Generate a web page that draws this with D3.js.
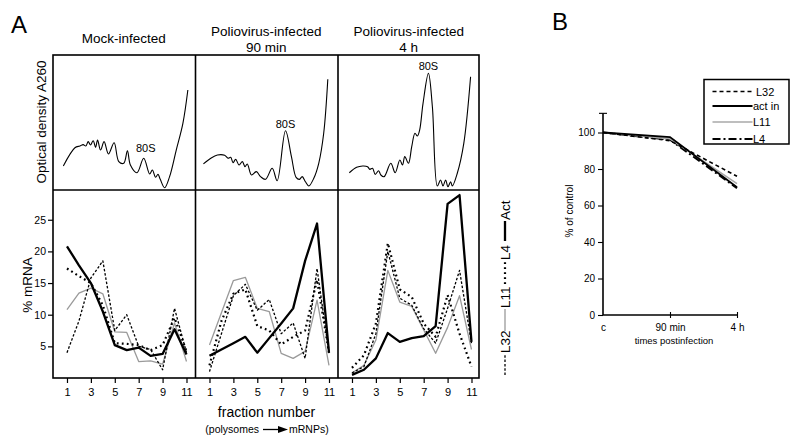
<!DOCTYPE html>
<html><head><meta charset="utf-8">
<script src="https://cdn.jsdelivr.net/npm/d3@7"></script>
<style>
html,body{margin:0;padding:0;background:#fff;}
svg{display:block;font-family:"Liberation Sans",Arial,Helvetica,sans-serif;}
</style></head>
<body>
<script>
// ---------- DATA ----------
const fractions = [1,2,3,4,5,6,7,8,9,10,11];
const panelTitles = [["Mock-infected"],["Poliovirus-infected","90 min"],["Poliovirus-infected","4 h"]];
const xTickValues = [1,3,5,7,9,11];
const yTickValues = [5,10,15,20,25];

// % mRNA per fraction (panel A, lower row)
const mockAct = [20.8,17.8,15,10.5,5.2,4.4,4.8,3.5,3.8,7.7,3.7];
const mockL11 = [10.8,13.4,14.2,13.3,7.3,7.2,2.6,2.7,2.2,8.7,2.6];
const mockL32 = [4,9,15.8,18.5,7.5,10,5,4.5,1.3,11,4];
const mockL4  = [17.3,16.1,15,11.5,5.5,5.4,5.2,4.4,5.2,9.5,4.2];

const p90Act = [3.5,4.5,5.5,6.5,4,6.3,8.6,11,18.5,24.4,4];
const p90L11 = [5.2,10.3,15.4,15.9,11,10.5,3.9,3.1,4.2,12.3,2];
const p90L32 = [1,7,13,14.8,10.7,12.4,7,8.7,3.1,17.3,3.9];
const p90L4  = [2,9,13.3,14,8.2,7.5,5.3,6.5,7.5,15.5,4];

const p4hAct = [0.5,1.3,3.1,7.1,5.7,6.3,6.6,8.2,27.5,28.9,5.7];
const p4hL11 = [0.8,2,6,17,12,11.3,7.6,3.9,8,13,4.5];
const p4hL32 = [0.8,1.8,7,20,12.6,11.5,7.8,5.5,11,17,5.5];
const p4hL4  = [1.6,3.6,8.6,21.3,14,12.8,8.6,6.5,13.1,7,1.8];

// Optical density traces (position along gradient %, A260 relative units)
const odMockPos = [7.3,15.5,19,21.3,23.2,24.9,26.5,28.4,30.1,31.5,33.6,36.1,39.2,43.2,46.5,50,52.6,54.7,59.4,64.1,68.3,70.2,72.5,74.2,75.8,78.9,82.4,87.1,91.8,95.3];
const odMockVal = [17.8,31.3,32.6,33.6,32.6,35.8,33.3,36.5,31.6,37,29.6,35.8,26.7,35,21,19.8,29.1,18.5,12.8,23.5,11.9,14.8,9.4,11.6,7.9,1.7,9.9,29.6,49.4,74.1];
const od90Pos = [5.6,10.8,15.5,20.6,23,24.9,26.5,28.4,30.8,33.1,35,36.6,39.6,43,46,49.5,54.2,57.7,63.6,67.8,71.1,73.5,75.4,77.7,80.1,83.6,87.1,90.6,93.5];
const od90Val = [19.3,23.5,25.9,25.7,23.5,24.2,20.2,22.7,18.5,21,17.3,19.3,11.1,13.6,9.9,7.9,16.1,6.9,43.9,24.7,9.4,7.9,9.9,6.1,3,8.7,19.8,42,82];
const od4hPos = [8,13.2,17.4,20.9,22.5,24.4,26.3,28.7,30.3,32.6,37.3,40.4,43.7,45.6,47.2,49.8,52.1,54.4,56.1,57.7,60.1,63.9,66.7,70.2,72.5,74.2,76.1,77.7,79.6,80.8,84.3,88.9,93.7];
const od4hVal = [12.8,16.8,17.8,17.3,15.3,16.1,11.6,14.3,11.1,9.9,19.8,12.8,22.2,18.5,24.7,19.8,32.1,42,40,44.4,64.2,86.4,61.7,3,7.4,3,7.4,2.4,6.1,3,12.4,34.6,83.9];
const peak80SPos = [64.1,63.6,63.9];
const peak80SVal = [23.5,43.9,86.4];

// Panel B
const bTimes = ["c","90 min","4 h"];
const bL32   = [100,95.5,76];
const bActin = [100,97.5,70];
const bL11   = [100,96.5,72];
const bL4    = [100,96,69.5];
const bYTicks = [0,20,40,60,80,100];
const bLegend = ["L32","act in","L11","L4"];

// ---------- DRAW ----------
const svg = d3.select("body").append("svg").attr("width",800).attr("height",447);
const FONT = "'Liberation Sans',Arial,Helvetica,sans-serif";

const styles = {
  L11:{stroke:"#9a9a9a",width:1.3,dash:null},
  L32:{stroke:"#000",width:1.3,dash:"2.5,1.8"},
  L4:{stroke:"#000",width:2.2,dash:"1.8,3.2"},
  Act:{stroke:"#000",width:2.3,dash:null}
};

const lefts = [53,195.5,338];
const PW = 141.5;
const TOP = 55, MID = 190, BOT = 378;

const yLow = d3.scaleLinear().domain([0,29.7]).range([BOT,MID]);
const yTop = d3.scaleLinear().domain([0,100]).range([MID,TOP]);

const lowData = [
  {L11:mockL11,L32:mockL32,L4:mockL4,Act:mockAct},
  {L11:p90L11,L32:p90L32,L4:p90L4,Act:p90Act},
  {L11:p4hL11,L32:p4hL32,L4:p4hL4,Act:p4hAct}
];
const odData = [[odMockPos,odMockVal],[od90Pos,od90Val],[od4hPos,od4hVal]];

lefts.forEach((L,i)=>{
  const xLow = d3.scaleLinear().domain([-0.17,11.67]).range([L,L+PW]);
  const xTop = d3.scaleLinear().domain([0,100]).range([L,L+PW]);
  // OD trace
  const pts = odData[i][0].map((p,k)=>[p,odData[i][1][k]]);
  svg.append("path").datum(pts)
    .attr("d", d3.line().x(d=>xTop(d[0])).y(d=>yTop(d[1])).curve(d3.curveCatmullRom.alpha(0.5)))
    .attr("fill","none").attr("stroke","#000").attr("stroke-width",1.1);
  // 80S label
  svg.append("text").attr("x",xTop(peak80SPos[i]) + (i===0?2:0)).attr("y",yTop(peak80SVal[i]) - (i===0?6:3))
    .attr("text-anchor","middle").attr("font-size",11).text("80S");
  // lines
  ["L11","L32","L4","Act"].forEach(k=>{
    const s = styles[k];
    svg.append("path").datum(lowData[i][k])
      .attr("d", d3.line().x((d,j)=>xLow(fractions[j])).y(d=>yLow(d)))
      .attr("fill","none").attr("stroke",s.stroke).attr("stroke-width",s.width)
      .attr("stroke-dasharray",s.dash).attr("stroke-linejoin","round");
  });
  // x axis
  const ax = svg.append("g").attr("transform",`translate(0,${BOT})`)
    .call(d3.axisBottom(xLow).tickValues(xTickValues).tickSize(5).tickPadding(5));
  ax.select(".domain").remove();
  ax.selectAll("line").attr("stroke","#000").attr("stroke-width",1.2);
  ax.selectAll("text").attr("font-size",11).attr("font-family",FONT);
  // titles
  const t = panelTitles[i];
  t.forEach((line,j)=>{
    svg.append("text").attr("x",L+PW/2).attr("y", t.length===1 ? 43 : 36 + j*15.5)
      .attr("text-anchor","middle").attr("font-size",13.5).text(line);
  });
});

// frame
svg.append("rect").attr("x",53).attr("y",TOP).attr("width",479-53).attr("height",BOT-TOP)
  .attr("fill","none").attr("stroke","#000").attr("stroke-width",1.6);
svg.append("line").attr("x1",53).attr("x2",479).attr("y1",MID).attr("y2",MID).attr("stroke","#000").attr("stroke-width",1.6);
[195.5,338].forEach(x=>svg.append("line").attr("x1",x).attr("x2",x).attr("y1",TOP).attr("y2",BOT).attr("stroke","#000").attr("stroke-width",1.6));

// y axis lower
const ay = svg.append("g").attr("transform","translate(53,0)")
  .call(d3.axisLeft(yLow).tickValues(yTickValues).tickSize(5).tickPadding(2));
ay.select(".domain").remove();
ay.selectAll("line").attr("stroke","#000").attr("stroke-width",1.2);
ay.selectAll("text").attr("font-size",10.5).attr("font-family",FONT);

// axis labels A
svg.append("text").attr("transform","translate(46,122) rotate(-90)").attr("text-anchor","middle")
  .attr("font-size",13.5).text("Optical density A260");
svg.append("text").attr("transform","translate(32,285) rotate(-90)").attr("text-anchor","middle")
  .attr("font-size",13.5).text("% mRNA");
svg.append("text").attr("x",266.5).attr("y",417).attr("text-anchor","middle").attr("font-size",14).text("fraction number");
svg.append("text").attr("x",259).attr("y",433).attr("text-anchor","end").attr("font-size",10.5).text("(polysomes");
svg.append("text").attr("x",289).attr("y",433).attr("text-anchor","start").attr("font-size",10.5).text("mRNPs)");
svg.append("line").attr("x1",263).attr("x2",280).attr("y1",429.5).attr("y2",429.5).attr("stroke","#000").attr("stroke-width",1.3);
svg.append("path").attr("d","M278,426 L288,429.5 L278,433 Z").attr("fill","#000");

// panel letters
svg.append("text").attr("x",11).attr("y",33).attr("font-size",24).text("A");
svg.append("text").attr("x",552).attr("y",30).attr("font-size",24).text("B");

// rotated legend for A
const lg = svg.append("g").attr("transform","translate(510,375) rotate(-90)");
const legItems = [
  {k:"L32",x0:0,x1:21,tx:22},
  {k:"L11",x0:44,x1:66,tx:67},
  {k:"L4",x0:91,x1:114,tx:115},
  {k:"Act",x0:134,x1:154,tx:155}
];
legItems.forEach(it=>{
  const s = styles[it.k];
  lg.append("line").attr("x1",it.x0).attr("x2",it.x1).attr("y1",-5).attr("y2",-5)
    .attr("stroke",s.stroke).attr("stroke-width",s.width).attr("stroke-dasharray",s.dash);
  lg.append("text").attr("x",it.tx).attr("y",0).attr("font-size",13.5).text(it.k);
});

// ---------- PANEL B ----------
const xB = d3.scalePoint().domain(bTimes).range([603,737]);
const yB = d3.scaleLinear().domain([0,100]).range([315,132.5]);
const bSeries = [
  {name:"L32",vals:bL32,stroke:"#000",w:1.6,dash:"4,3"},
  {name:"act in",vals:bActin,stroke:"#000",w:1.8,dash:null},
  {name:"L11",vals:bL11,stroke:"#a8a8a8",w:1.6,dash:null},
  {name:"L4",vals:bL4,stroke:"#000",w:2,dash:"8,3,2,3"}
];
bSeries.slice().reverse().forEach(s=>{
  svg.append("path").datum(s.vals)
    .attr("d", d3.line().x((d,j)=>xB(bTimes[j])).y(d=>yB(d)))
    .attr("fill","none").attr("stroke",s.stroke).attr("stroke-width",s.w).attr("stroke-dasharray",s.dash);
});
// axes B
const byA = svg.append("g").attr("transform","translate(603,0)")
  .call(d3.axisLeft(yB).tickValues(bYTicks).tickSize(5).tickPadding(3).tickSizeOuter(0));
byA.select(".domain").remove();
byA.selectAll("line").attr("stroke","#000").attr("stroke-width",1.1);
byA.selectAll("text").attr("font-size",10).attr("font-family",FONT);
svg.append("line").attr("x1",603).attr("x2",603).attr("y1",yB(0)).attr("y2",yB(110.5)).attr("stroke","#000").attr("stroke-width",1.6);
svg.append("line").attr("x1",599).attr("x2",607).attr("y1",yB(110.5)).attr("y2",yB(110.5)).attr("stroke","#000").attr("stroke-width",1.1);
svg.append("line").attr("x1",603).attr("x2",737).attr("y1",315).attr("y2",315).attr("stroke","#000").attr("stroke-width",1.6);
const bxA = svg.append("g").attr("transform","translate(0,312)")
  .call(d3.axisBottom(xB).tickSize(6).tickPadding(6));
bxA.select(".domain").remove();
bxA.selectAll("line").attr("stroke","#000").attr("stroke-width",1.1);
bxA.selectAll(".tick").filter(d=>d==="c").select("line").remove();
bxA.selectAll("text").attr("font-size",10).attr("font-family",FONT);
svg.append("text").attr("x",674).attr("y",344).attr("text-anchor","middle").attr("font-size",9.5).text("times postinfection");
svg.append("text").attr("transform","translate(573,211) rotate(-90)").attr("text-anchor","middle").attr("font-size",10).text("% of control");

// legend B
svg.append("rect").attr("x",704).attr("y",79.5).attr("width",85).attr("height",64.5)
  .attr("fill","#fff").attr("stroke","#000").attr("stroke-width",1.5);
const legY = [91.5,106,122,139];
bSeries.forEach((s,i)=>{
  svg.append("line").attr("x1",712.5).attr("x2",752.5).attr("y1",legY[i]).attr("y2",legY[i])
    .attr("stroke",s.stroke).attr("stroke-width",s.w).attr("stroke-dasharray",s.dash);
  svg.append("text").attr("x", i===0?756:753).attr("y",legY[i]+4).attr("font-size",11).text(bLegend[i]);
});
</script>
</body></html>
